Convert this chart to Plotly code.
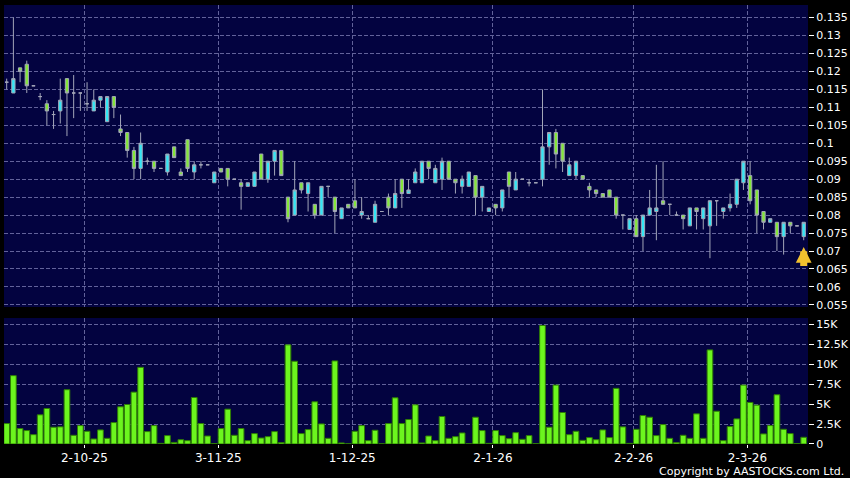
import plotly.graph_objects as go

# ---------------- data ----------------
open_ = [0.117, 0.114, 0.121, 0.122, 0.116, 0.113, 0.111, 0.108, 0.109, 0.118,
         0.114, 0.114, 0.111, 0.109, 0.112, 0.106, 0.113, 0.104, 0.103, 0.098,
         0.093, 0.095, 0.095, 0.093, 0.092, 0.099, 0.092, 0.101, 0.092, 0.094,
         0.094, 0.089, 0.093, 0.093, 0.090, 0.089, 0.088, 0.088, 0.097, 0.090,
         0.095, 0.098, 0.085, 0.080, 0.089, 0.086, 0.083, 0.080, 0.088, 0.085,
         0.079, 0.083, 0.084, 0.080, 0.079, 0.078, 0.081, 0.085, 0.082, 0.090,
         0.086, 0.089, 0.089, 0.095, 0.089, 0.090, 0.095, 0.090, 0.088, 0.088,
         0.091, 0.085, 0.081, 0.083, 0.082, 0.092, 0.087, 0.090, 0.089, 0.089,
         0.090, 0.099, 0.103, 0.100, 0.091, 0.091, 0.091, 0.088, 0.087, 0.086,
         0.087, 0.085, 0.080, 0.076, 0.079, 0.074, 0.080, 0.081, 0.084, 0.083,
         0.080, 0.080, 0.077, 0.082, 0.079, 0.077, 0.084, 0.081, 0.082, 0.083,
         0.089, 0.091, 0.087, 0.081, 0.078, 0.078, 0.074, 0.078, 0.077, 0.074]
high = [0.118, 0.135, 0.121, 0.123, 0.116, 0.114, 0.112, 0.109, 0.118, 0.118,
        0.119, 0.114, 0.117, 0.115, 0.113, 0.113, 0.113, 0.108, 0.103, 0.099,
        0.103, 0.096, 0.095, 0.093, 0.097, 0.099, 0.093, 0.101, 0.095, 0.095,
        0.094, 0.092, 0.093, 0.093, 0.090, 0.090, 0.089, 0.092, 0.097, 0.095,
        0.098, 0.098, 0.085, 0.095, 0.089, 0.089, 0.083, 0.088, 0.088, 0.085,
        0.082, 0.083, 0.090, 0.085, 0.080, 0.084, 0.081, 0.086, 0.090, 0.090,
        0.090, 0.093, 0.095, 0.095, 0.094, 0.096, 0.095, 0.090, 0.091, 0.092,
        0.091, 0.088, 0.082, 0.083, 0.087, 0.092, 0.092, 0.090, 0.090, 0.089,
        0.115, 0.103, 0.104, 0.100, 0.096, 0.095, 0.091, 0.089, 0.087, 0.086,
        0.087, 0.085, 0.080, 0.079, 0.080, 0.080, 0.087, 0.094, 0.095, 0.083,
        0.081, 0.080, 0.082, 0.082, 0.082, 0.084, 0.084, 0.082, 0.086, 0.090,
        0.095, 0.095, 0.087, 0.081, 0.079, 0.078, 0.078, 0.078, 0.077, 0.078]
low = [0.115, 0.114, 0.117, 0.114, 0.116, 0.112, 0.105, 0.104, 0.1055, 0.102,
       0.107, 0.109, 0.109, 0.109, 0.110, 0.106, 0.107, 0.102, 0.096, 0.090,
       0.090, 0.094, 0.092, 0.093, 0.091, 0.096, 0.091, 0.092, 0.090, 0.093,
       0.094, 0.089, 0.092, 0.088, 0.090, 0.0815, 0.088, 0.088, 0.090, 0.089,
       0.091, 0.091, 0.078, 0.080, 0.086, 0.081, 0.079, 0.080, 0.085, 0.075,
       0.079, 0.082, 0.082, 0.079, 0.079, 0.078, 0.081, 0.080, 0.082, 0.082,
       0.086, 0.089, 0.089, 0.090, 0.089, 0.087, 0.090, 0.086, 0.086, 0.088,
       0.080, 0.081, 0.081, 0.080, 0.081, 0.085, 0.087, 0.090, 0.088, 0.089,
       0.088, 0.094, 0.093, 0.092, 0.091, 0.090, 0.090, 0.085, 0.085, 0.085,
       0.085, 0.079, 0.076, 0.076, 0.074, 0.070, 0.080, 0.073, 0.083, 0.080,
       0.080, 0.076, 0.077, 0.076, 0.076, 0.068, 0.077, 0.079, 0.081, 0.082,
       0.087, 0.083, 0.075, 0.076, 0.078, 0.070, 0.069, 0.075, 0.077, 0.073]
close = [0.117, 0.118, 0.120, 0.116, 0.116, 0.113, 0.109, 0.108, 0.112, 0.114,
         0.114, 0.114, 0.111, 0.112, 0.113, 0.113, 0.110, 0.103, 0.098, 0.093,
         0.100, 0.095, 0.093, 0.093, 0.097, 0.096, 0.091, 0.093, 0.094, 0.094,
         0.094, 0.092, 0.092, 0.090, 0.090, 0.088, 0.089, 0.092, 0.090, 0.095,
         0.098, 0.091, 0.079, 0.087, 0.087, 0.089, 0.080, 0.088, 0.088, 0.081,
         0.082, 0.082, 0.082, 0.081, 0.079, 0.083, 0.081, 0.082, 0.086, 0.086,
         0.087, 0.092, 0.095, 0.093, 0.093, 0.095, 0.090, 0.089, 0.090, 0.092,
         0.085, 0.088, 0.082, 0.082, 0.087, 0.088, 0.090, 0.090, 0.089, 0.089,
         0.099, 0.103, 0.097, 0.095, 0.094, 0.095, 0.090, 0.087, 0.086, 0.085,
         0.085, 0.080, 0.080, 0.079, 0.074, 0.080, 0.082, 0.082, 0.083, 0.083,
         0.080, 0.079, 0.082, 0.081, 0.082, 0.084, 0.084, 0.082, 0.083, 0.090,
         0.095, 0.084, 0.080, 0.078, 0.079, 0.074, 0.078, 0.077, 0.077, 0.078]
volume_k = [2.56, 8.55, 1.93, 1.68, 1.17, 3.65, 4.44, 2.1, 2.14, 6.79,
            1.09, 2.3, 1.59, 0.63, 1.76, 0.71, 2.68, 4.65, 4.94, 6.49,
            9.59, 1.55, 2.3, 0.08, 1.05, 0.2, 0.54, 0.42, 5.82, 2.56,
            1.0, 0.04, 1.93, 4.36, 1.09, 1.93, 0.42, 1.3, 0.75, 0.92,
            1.55, 0.17, 12.4, 10.35, 1.3, 1.8, 5.28, 2.51, 0.71, 10.39,
            0.13, 0.02, 1.59, 2.3, 0.42, 1.72, 0.02, 2.56, 5.78, 2.56,
            3.06, 4.9, 0.13, 1.0, 0.42, 3.44, 0.71, 0.92, 1.38, 0.02,
            3.35, 1.68, 0.08, 1.68, 1.05, 0.67, 1.42, 0.59, 1.05, 0.04,
            14.83, 2.1, 7.37, 3.94, 1.17, 1.59, 0.46, 0.8, 0.54, 1.76,
            0.8, 6.96, 2.14, 0.08, 1.84, 3.56, 3.35, 1.05, 2.43, 0.71,
            0.17, 1.09, 0.71, 3.77, 0.71, 11.77, 4.1, 0.42, 2.18, 3.14,
            7.37, 5.2, 4.86, 1.26, 2.3, 6.16, 1.84, 1.3, 0.04, 0.84]
price_tick_labels = ["0.055", "0.06", "0.065", "0.07", "0.075", "0.08", "0.085",
                     "0.09", "0.095", "0.1", "0.105", "0.11", "0.115", "0.12",
                     "0.125", "0.13", "0.135"]
volume_tick_values = [0, 2500, 5000, 7500, 10000, 12500, 15000]
volume_tick_labels = ["0", "2.5K", "5K", "7.5K", "10K", "12.5K", "15K"]
date_labels = ["2-10-25", "3-11-25", "1-12-25", "2-1-26", "2-2-26", "2-3-26"]
date_index = [11, 31, 51, 72, 93, 110]   # position of those sessions in the series

# ---------------- styling ----------------
NAVY = "#030340"
GRID = "#62629a"
WICK = "#a3a6b8"
CYAN = "#33e6f5"
GREEN = "#84e63a"
VOLF = "#6cf51e"
VOLL = "#2f7d05"
FONT = "DejaVu Sans"

idx = list(range(len(open_)))
groups = {
    "up": [i for i in idx if close[i] > open_[i]],
    "down": [i for i in idx if close[i] < open_[i]],
    "doji": [i for i in idx if close[i] == open_[i]],
}
fills = {"up": CYAN, "down": GREEN, "doji": WICK}

fig = go.Figure()
for key, sel in groups.items():
    fig.add_trace(go.Candlestick(
        x=[idx[i] for i in sel],
        open=[open_[i] for i in sel], high=[high[i] for i in sel],
        low=[low[i] for i in sel], close=[close[i] for i in sel],
        increasing=dict(line=dict(color=WICK, width=1), fillcolor=fills[key]),
        decreasing=dict(line=dict(color=WICK, width=1), fillcolor=fills[key]),
        whiskerwidth=0, showlegend=False, hoverinfo="skip",
        xaxis="x", yaxis="y"))

fig.add_trace(go.Bar(
    x=idx, y=[v * 1000 for v in volume_k],
    marker=dict(color=VOLF, line=dict(color=VOLL, width=1)),
    showlegend=False, hoverinfo="skip", xaxis="x2", yaxis="y2"))

grid_pos = [d + 0.6 for d in date_index]
xr = [-0.4, len(idx) - 1 + 0.64]

common_x = dict(range=xr, showgrid=True, gridcolor=GRID, griddash="4px,2px",
                gridwidth=1, zeroline=False, showline=False, tickvals=grid_pos,
                fixedrange=True)
common_y = dict(side="right", showgrid=True, gridcolor=GRID, griddash="4px,2px",
                gridwidth=1, zeroline=False, showline=False, ticks="outside",
                ticklen=5, tickcolor="#ffffff", tickwidth=1, fixedrange=True,
                tickfont=dict(family=FONT, size=11, color="#ffffff"))

price_vals = [float(t) for t in price_tick_labels]

fig.update_layout(
    width=850, height=478,
    paper_bgcolor="#000000", plot_bgcolor=NAVY,
    margin=dict(l=4, r=42, t=5, b=34, autoexpand=False),
    bargap=0.15,
    hovermode=False,
    xaxis=dict(domain=[0, 1], anchor="y", showticklabels=False,
               rangeslider=dict(visible=False), **common_x),
    yaxis=dict(domain=[0.312, 1], anchor="x", range=[0.0544, 0.1385],
               tickvals=price_vals, ticktext=price_tick_labels, **common_y),
    xaxis2=dict(domain=[0, 1], anchor="y2", ticktext=date_labels,
                ticks="outside", ticklen=3, tickcolor="#ffffff",
                tickfont=dict(family=FONT, size=12, color="#ffffff"), **common_x),
    yaxis2=dict(domain=[0, 0.287], anchor="x2", range=[0, 15760],
                tickvals=volume_tick_values, ticktext=volume_tick_labels, **common_y),
    annotations=[
        dict(x=idx[-1], y=low[-1] - 0.0019, xref="x", yref="y", text=" ",
             font=dict(size=1), borderpad=0,
             showarrow=True, arrowhead=2, arrowsize=0.45, arrowwidth=7,
             arrowcolor="#f2c12e", ax=0, ay=20),
        dict(x=1.0475, y=-0.063, xref="paper", yref="paper",
             text="Copyright by AASTOCKS.com Ltd.", showarrow=False,
             xanchor="right", yanchor="middle",
             font=dict(family=FONT, size=11, color="#ffffff")),
    ],
)

fig.write_html("out.html", config={"displayModeBar": False},
               post_script="document.body.style.margin='0px';")
